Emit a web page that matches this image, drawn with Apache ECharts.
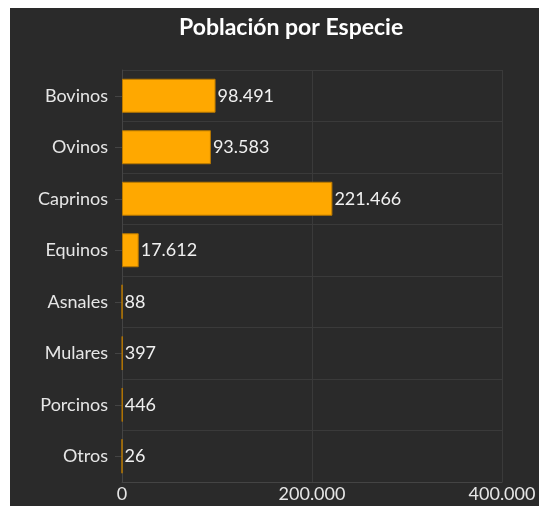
<!DOCTYPE html>
<html><head><meta charset="utf-8">
<script src="https://cdn.jsdelivr.net/npm/echarts@6/dist/echarts.min.js"></script>
<style>
html,body{margin:0;padding:0;background:#fff;}
#chart{position:absolute;left:10px;top:8px;width:529px;height:498px;background:#2a2a2a;}
</style></head>
<body><div id="chart"></div>
<script>
const titleText = 'Población por Especie';
const categories = ['Bovinos','Ovinos','Caprinos','Equinos','Asnales','Mulares','Porcinos','Otros'];
const values = [98491, 93583, 221466, 17612, 88, 397, 446, 26];
const xTicks = [0, 200000, 400000];

function fmt(v){ return String(v).replace(/\B(?=(\d{3})+(?!\d))/g, '.'); }

const chart = echarts.init(document.getElementById('chart'));
chart.setOption({
  backgroundColor: '#2a2a2a',
  animation: false,
  title: {
    text: titleText, left: 164, top: 3,
    textStyle: {color: '#ffffff', fontFamily: 'Lato', fontWeight: 'bold', fontSize: 23}
  },
  grid: {left: 112, top: 62, right: 37, bottom: 24, containLabel: false},
  xAxis: {
    type: 'value', min: xTicks[0], max: xTicks[xTicks.length-1], interval: xTicks[1]-xTicks[0],
    axisLine: {show: true, lineStyle: {color: '#444'}},
    axisTick: {show: false},
    splitLine: {show: true, lineStyle: {color: '#3a3a3a'}},
    axisLabel: {color: '#e6e6e6', fontFamily: 'Lato', fontSize: 18, margin: 3, formatter: fmt}
  },
  yAxis: {
    type: 'category', data: categories, inverse: true,
    axisLine: {show: true, lineStyle: {color: '#444'}},
    axisTick: {show: true, alignWithLabel: true, length: 7, lineStyle: {color: '#444'}},
    splitLine: {show: true, lineStyle: {color: '#3a3a3a'}},
    axisLabel: {color: '#e6e6e6', fontFamily: 'Lato', fontSize: 18, margin: 14, padding: [0, 0, 4, 0]}
  },
  series: [{
    type: 'bar', data: values, barCategoryGap: '34%',
    itemStyle: {color: '#FFA800', borderColor: '#b87800', borderWidth: 1},
    label: {show: true, position: 'right', distance: 2, color: '#f0f0f0', fontFamily: 'Lato', fontSize: 18,
      formatter: p => fmt(p.value)}
  }]
});
</script></body></html>
